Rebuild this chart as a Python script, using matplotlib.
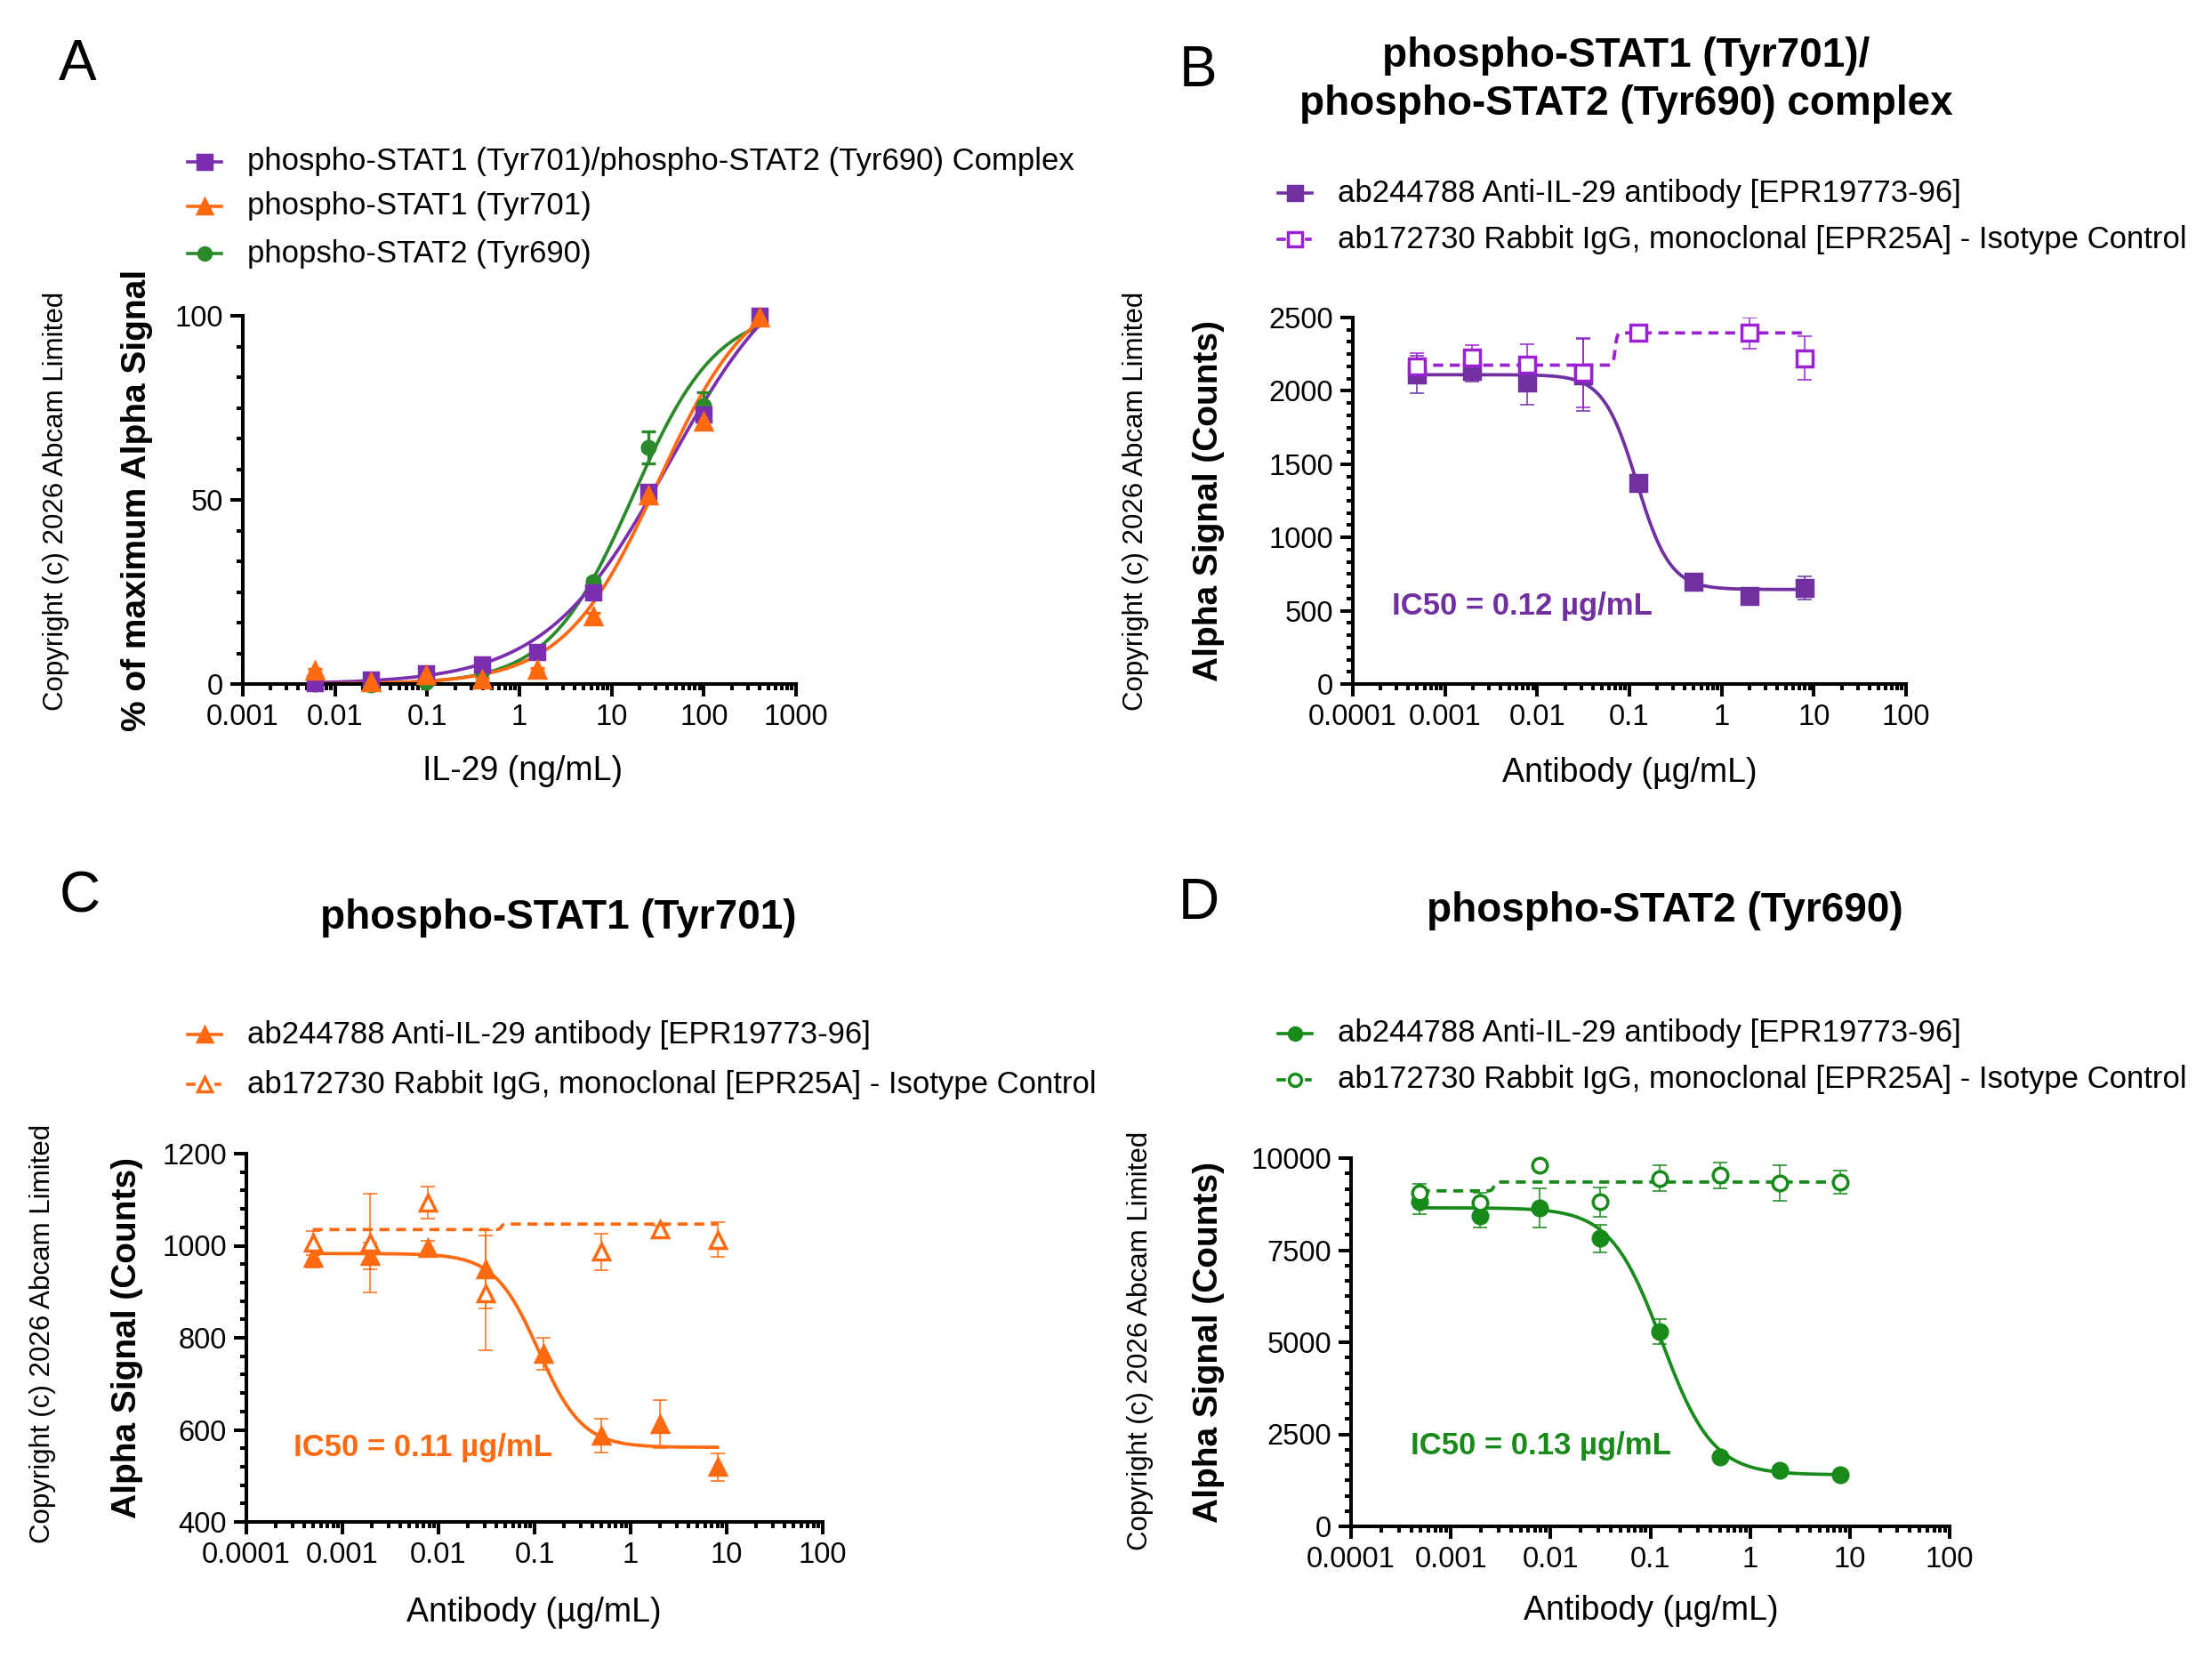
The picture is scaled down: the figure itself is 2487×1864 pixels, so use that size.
import numpy as np
import matplotlib
matplotlib.use("Agg")
from matplotlib import pyplot as plt
from matplotlib.ticker import FixedLocator, LogLocator, NullFormatter, FuncFormatter

plt.rcParams["font.family"] = ["Liberation Sans", "DejaVu Sans"]

# ---- data ----
il29_ngml = [0.0061, 0.0244, 0.0977, 0.3906, 1.5625, 6.25, 25, 100, 400]
a_complex = [0.2, 1.2, 2.8, 5.4, 8.6, 24.8, 52.2, 73.2, 100.0]
a_complex_err = [0.3, 0.3, 0.4, 0.5, 0.6, 1.0, 1.5, 1.5, 0.5]
a_stat1 = [3.6, 0.5, 2.5, 1.2, 3.8, 18.4, 51.2, 71.2, 99.6]
a_stat1_err = [0.5, 0.3, 0.4, 0.4, 0.5, 1.0, 1.5, 1.5, 0.5]
a_stat2 = [0.0, -0.2, 0.6, 3.6, 8.8, 27.8, 64.2, 75.6, 100.0]
a_stat2_err = [0.3, 0.3, 0.3, 0.5, 0.6, 1.0, 4.4, 3.6, 0.5]

antibody_ugml = [0.00049, 0.00195, 0.0078, 0.03125, 0.125, 0.5, 2, 8]

b_anti = [2112, 2133, 2058, 2108, 1369, 699, 602, 657]
b_anti_err = [125, 70, 150, 245, 30, 20, 15, 80]
b_iso = [2169, 2229, 2179, 2124, 2394, np.nan, 2394, 2223]
b_iso_err = [90, 80, 140, 235, 37, np.nan, 105, 150]

c_anti = [974, 977, 995, 948, 765, 587, 613, 519]
c_anti_err = [22, 29, 16, 85, 35, 37, 52, 30]
c_iso = [1006, 1006, 1094, 897, np.nan, 987, 1035, 1013]
c_iso_err = [26, 108, 35, 125, np.nan, 40, 8, 38]

d_anti = [8809, 8431, 8648, 7820, 5286, 1891, 1529, 1408]
d_anti_err = [320, 305, 535, 370, 340, 60, 60, 60]
d_iso = [9067, 8785, 9799, 8809, 9453, 9533, 9316, 9348]
d_iso_err = [225, 265, 60, 400, 345, 355, 485, 310]

# 4PL fit parameters: bottom, top, midpoint, hill
fit_a = {"complex": (0, 120, 42, 0.65), "stat1": (0, 110, 32, 0.85), "stat2": (0, 102, 17, 0.95)}
fit_b = {"anti": (645, 2110, 0.12, -2.4), "iso": (2175, 2395, 0.07, 40)}
fit_c = {"anti": (562, 983, 0.11, -1.9), "iso": (1035, 1047, 0.045, 40)}
fit_d = {"anti": (1400, 8650, 0.13, -1.7), "iso": (9110, 9350, 0.0027, 40)}

legend_a = ["phospho-STAT1 (Tyr701)/phospho-STAT2 (Tyr690) Complex",
            "phospho-STAT1 (Tyr701)", "phopsho-STAT2 (Tyr690)"]
legend_ab = ["ab244788 Anti-IL-29 antibody [EPR19773-96]",
             "ab172730 Rabbit IgG, monoclonal [EPR25A] - Isotype Control"]

PURPLE = "#7b2fb0"
ORANGE = "#ff6a10"
GREEN = "#2a8a2a"
PURPLE_D = "#7030a0"
PURPLE_L = "#9a22d2"
GREEN_D = "#178a1a"

W, H = 2487, 1864
fig = plt.figure(figsize=(W / 100, H / 100), dpi=100)
ov = fig.add_axes([0, 0, 1, 1])
ov.set_xlim(0, W)
ov.set_ylim(H, 0)
ov.axis("off")


def four_pl(x, bottom, top, mid, hill):
    return bottom + (top - bottom) / (1 + (mid / x) ** hill)


def px_axes(left, top, right, bottom):
    return fig.add_axes([left / W, 1 - bottom / H, (right - left) / W, (bottom - top) / H])


def style_axes(ax, xlim, ylim, major, minor_step, decades):
    ax.set_xscale("log")
    ax.set_xlim(*xlim)
    ax.set_ylim(*ylim)
    for s in ["top", "right"]:
        ax.spines[s].set_visible(False)
    for s in ["left", "bottom"]:
        ax.spines[s].set_linewidth(2.9)
        ax.spines[s].set_capstyle("projecting")
    ax.xaxis.set_major_locator(FixedLocator(decades))
    ax.xaxis.set_major_formatter(FuncFormatter(lambda v, p: ("%g" % v)))
    ax.xaxis.set_minor_locator(LogLocator(base=10, subs=np.arange(2, 10), numticks=20))
    ax.xaxis.set_minor_formatter(NullFormatter())
    ax.yaxis.set_major_locator(FixedLocator(major))
    ax.yaxis.set_minor_locator(FixedLocator(np.arange(ylim[0], ylim[1] + 1e-6, minor_step)))
    ax.tick_params(which="major", length=10, width=2.9, labelsize=23.5)
    ax.tick_params(which="minor", length=5, width=2.9)
    ax.tick_params(axis="x", which="major", pad=6)
    ax.tick_params(axis="y", which="major", pad=6)
    ax.patch.set_alpha(0)


def curve(ax, xs, params, color, ls="-"):
    xx = np.logspace(np.log10(xs[0]), np.log10(xs[-1]), 600)
    line, = ax.plot(xx, four_pl(xx, *params), color=color, lw=2.7, zorder=2)
    if ls == "--":
        line.set_dashes((3.0, 2.0))


def points(ax, xs, ys, err, color, marker, size, filled=True, elw=1.1, cap=6):
    ax.errorbar(xs, ys, yerr=err, fmt="none", ecolor=color, elinewidth=elw,
                capsize=cap, capthick=elw, zorder=3)
    ax.plot(xs, ys, ls="none", marker=marker, ms=size, color=color,
            mfc=color if filled else "white", mec=color, mew=2.5, zorder=4,
            clip_on=False)


def legend_row(x, y, label, color, marker, size, filled=True, dashed=False):
    if dashed:
        ov.plot([x - 19, x - 12], [y, y], color=color, lw=2.6)
        ov.plot([x + 13, x + 17], [y, y], color=color, lw=2.6)
    else:
        ov.plot([x - 19, x + 19], [y, y], color=color, lw=2.6)
    ov.plot([x], [y], marker=marker, ms=size, color=color,
            mfc=color if filled else "white", mec=color, mew=2.5)
    ov.text(x + 48, y, label, fontsize=25, va="center", ha="left")


def frame_text(letter, lx, ly, copy_x, copy_y, ylabel, ylx, yly, xlabel, xlx, xly):
    ov.text(lx, ly, letter, fontsize=46, ha="center", va="center")
    ov.text(copy_x, copy_y, "Copyright (c) 2026 Abcam Limited", fontsize=22.5,
            rotation=90, ha="center", va="center")
    ov.text(ylx, yly, ylabel, fontsize=28, weight="bold", rotation=90,
            ha="center", va="center")
    ov.text(xlx, xly, xlabel, fontsize=27, ha="center", va="center")


# ---- panel A ----
axA = px_axes(273, 355, 895, 769)
style_axes(axA, (0.001, 1000), (0, 100), [0, 50, 100], 100 / 12,
           [0.001, 0.01, 0.1, 1, 10, 100, 1000])
curve(axA, il29_ngml, fit_a["stat2"], GREEN)
curve(axA, il29_ngml, fit_a["complex"], PURPLE)
curve(axA, il29_ngml, fit_a["stat1"], ORANGE)
points(axA, il29_ngml, a_stat2, a_stat2_err, GREEN, "o", 10.5, elw=2.4, cap=6)
points(axA, il29_ngml, a_complex, a_complex_err, PURPLE, "s", 11.5, elw=2.4, cap=6)
points(axA, il29_ngml, a_stat1, a_stat1_err, ORANGE, "^", 12.5, elw=2.4, cap=6)
frame_text("A", 87, 73, 63, 563, "% of maximum Alpha Signal", 154, 562,
           "IL-29 (ng/mL)", 588, 867)
legend_row(230, 182, legend_a[0], PURPLE, "s", 11)
legend_row(230, 232, legend_a[1], ORANGE, "^", 12)
legend_row(230, 285, legend_a[2], GREEN, "o", 10)

ab_decades = [0.0001, 0.001, 0.01, 0.1, 1, 10, 100]

# ---- panel B ----
axB = px_axes(1521, 357, 2143, 769)
style_axes(axB, (0.0001, 100), (0, 2500), np.arange(0, 2501, 500), 500 / 6, ab_decades)
curve(axB, antibody_ugml, fit_b["iso"], PURPLE_L, "--")
curve(axB, antibody_ugml, fit_b["anti"], PURPLE_D)
points(axB, antibody_ugml, b_anti, b_anti_err, PURPLE_D, "s", 13)
points(axB, antibody_ugml, b_iso, b_iso_err, PURPLE_L, "s", 13, filled=False)
frame_text("B", 1347, 80, 1277, 563, "Alpha Signal (Counts)", 1359, 563,
           "Antibody (\u00b5g/mL)", 1832, 869)
ov.text(1828, 90, "phospho-STAT1 (Tyr701)/\nphospho-STAT2 (Tyr690) complex",
        fontsize=33, weight="bold", ha="center", va="center", linespacing=1.27)
legend_row(1456, 217, legend_ab[0], PURPLE_D, "s", 11)
legend_row(1456, 269, legend_ab[1], PURPLE_L, "s", 11, filled=False, dashed=True)
ov.text(1565, 682, "IC50 = 0.12 \u00b5g/mL", fontsize=25, weight="bold",
        color=PURPLE_D, ha="left", va="center")

# ---- panel C ----
axC = px_axes(277, 1297, 925, 1711)
style_axes(axC, (0.0001, 100), (400, 1200), np.arange(400, 1201, 200), 40, ab_decades)
curve(axC, antibody_ugml, fit_c["iso"], ORANGE, "--")
curve(axC, antibody_ugml, fit_c["anti"], ORANGE)
points(axC, antibody_ugml, c_anti, c_anti_err, ORANGE, "^", 13)
points(axC, antibody_ugml, c_iso, c_iso_err, ORANGE, "^", 13, filled=False)
frame_text("C", 90, 1008, 48, 1499, "Alpha Signal (Counts)", 143, 1504,
           "Antibody (\u00b5g/mL)", 600, 1813)
ov.text(628, 1032, "phospho-STAT1 (Tyr701)", fontsize=33, weight="bold",
        ha="center", va="center")
legend_row(230, 1163, legend_ab[0], ORANGE, "^", 12)
legend_row(230, 1219, legend_ab[1], ORANGE, "^", 12, filled=False, dashed=True)
ov.text(330, 1627, "IC50 = 0.11 \u00b5g/mL", fontsize=25, weight="bold",
        color=ORANGE, ha="left", va="center")

# ---- panel D ----
axD = px_axes(1519, 1302, 2192, 1716)
style_axes(axD, (0.0001, 100), (0, 10000), np.arange(0, 10001, 2500), 2500 / 6, ab_decades)
curve(axD, antibody_ugml, fit_d["iso"], GREEN_D, "--")
curve(axD, antibody_ugml, fit_d["anti"], GREEN_D)
points(axD, antibody_ugml, d_anti, d_anti_err, GREEN_D, "o", 12)
points(axD, antibody_ugml, d_iso, d_iso_err, GREEN_D, "o", 12, filled=False)
frame_text("D", 1348, 1016, 1282, 1507, "Alpha Signal (Counts)", 1359, 1509,
           "Antibody (\u00b5g/mL)", 1856, 1811)
ov.text(1872, 1024, "phospho-STAT2 (Tyr690)", fontsize=33, weight="bold",
        ha="center", va="center")
legend_row(1456, 1162, legend_ab[0], GREEN_D, "o", 10)
legend_row(1456, 1214, legend_ab[1], GREEN_D, "o", 10, filled=False, dashed=True)
ov.text(1586, 1626, "IC50 = 0.13 \u00b5g/mL", fontsize=25, weight="bold",
        color=GREEN_D, ha="left", va="center")

fig.savefig("out.png", dpi=100)
